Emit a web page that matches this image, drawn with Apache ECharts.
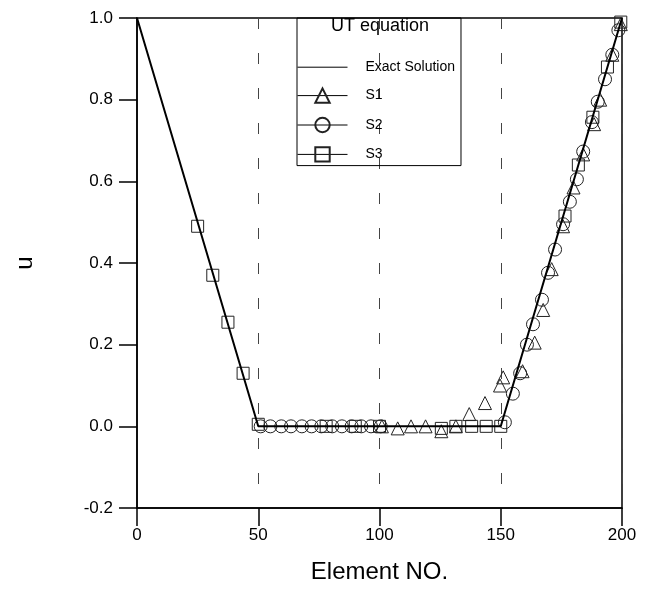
<!DOCTYPE html>
<html>
<head>
<meta charset="utf-8">
<script src="https://cdn.jsdelivr.net/npm/echarts@6/dist/echarts.min.js"></script>
<style>
  html, body { margin: 0; padding: 0; background: #fff; }
  #chart { width: 658px; height: 596px; }
</style>
</head>
<body>
<div id="chart"></div>
<script>
// ---- data ----
var xTicks = [0, 50, 100, 150, 200];
var yTicks = [-0.2, 0.0, 0.2, 0.4, 0.6, 0.8, 1.0];

var exactX = [0, 50, 150, 200];
var exactU = [1, 0, 0, 1];

var s1X = [101, 107.5, 113, 119, 125.5, 131.5, 137, 143.5, 149.7, 151, 159, 164, 167.5, 171, 175.7, 180, 184, 188.5, 191, 196, 199.5];
var s1U = [0, -0.005, 0, 0, -0.012, 0, 0.03, 0.057, 0.10, 0.12, 0.135, 0.205, 0.285, 0.385, 0.49, 0.585, 0.666, 0.74, 0.80, 0.91, 0.985];

var s2X = [51, 55, 59.5, 63.5, 68, 72, 76, 80.5, 84.5, 88.5, 92.5, 96.5, 100.5, 151.7, 155, 158, 160.8, 163.3, 167, 169.5, 172.4, 175.7, 178.5, 181.4, 184, 187.6, 190, 193, 196, 198.5];
var s2U = [0, 0, 0, 0, 0, 0, 0, 0, 0, 0, 0, 0, 0, 0.01, 0.08, 0.13, 0.2, 0.25, 0.31, 0.376, 0.433, 0.495, 0.55, 0.605, 0.673, 0.745, 0.795, 0.85, 0.91, 0.97];

var s3X = [25, 31.25, 37.5, 43.75, 50, 78, 90, 100, 125.5, 131.5, 138, 144, 150, 176.5, 182, 188, 194, 199.5];
var s3U = [0.49, 0.37, 0.255, 0.13, 0.005, 0, 0, 0, -0.005, 0, 0, 0, 0, 0.515, 0.64, 0.757, 0.88, 0.99];

function pairs(xs, ys) { return xs.map(function (x, i) { return [x, ys[i]]; }); }

var FONT = '"Liberation Sans", Arial, Helvetica, sans-serif';
var chart = echarts.init(document.getElementById('chart'), null, { renderer: 'canvas' });

var markerStyle = { color: 'rgba(0,0,0,0)', borderColor: '#222', borderWidth: 1 };
var noLine = { width: 0, opacity: 0 };
var legLine = { width: 1, opacity: 1, color: '#000' };

var option = {
  animation: false,
  backgroundColor: '#fff',
  title: {
    text: 'UT equation',
    left: 380, top: 17, textAlign: 'center', padding: 0,
    textStyle: { fontFamily: FONT, fontSize: 18, fontWeight: 'normal', color: '#000' }
  },
  grid: {
    left: 137, right: 36, top: 18, bottom: 88,
    show: true, borderColor: '#000', borderWidth: 1.5, backgroundColor: 'transparent'
  },
  legend: {
    left: 297, top: 18, orient: 'vertical',
    padding: [42, 6, 3, 0],
    borderColor: '#000', borderWidth: 1,
    itemWidth: 50, itemHeight: 18, itemGap: 13,
    textStyle: { fontFamily: FONT, fontSize: 14, color: '#000', padding: [0, 0, 0, 13] },
    data: [
      { name: 'Exact Solution', itemStyle: { opacity: 0 }, lineStyle: legLine },
      { name: 'S1', lineStyle: legLine },
      { name: 'S2', lineStyle: legLine },
      { name: 'S3', lineStyle: legLine }
    ]
  },
  xAxis: {
    type: 'value', min: xTicks[0], max: xTicks[xTicks.length - 1], interval: 50,
    name: 'Element NO.', nameLocation: 'middle', nameGap: 52,
    nameTextStyle: { fontFamily: FONT, fontSize: 24, color: '#000' },
    axisLine: { show: true, onZero: false, lineStyle: { color: '#000', width: 1.5 } },
    axisTick: { show: true, inside: false, length: 18, lineStyle: { color: '#000', width: 1.5 } },
    axisLabel: { margin: 19, fontFamily: FONT, fontSize: 17, color: '#000' },
    splitLine: { show: true, lineStyle: { color: '#444', width: 1, type: [11, 24] } }
  },
  yAxis: {
    type: 'value', min: yTicks[0], max: yTicks[yTicks.length - 1], interval: 0.2,
    name: 'u', nameLocation: 'middle', nameGap: 100, nameRotate: 90,
    nameTextStyle: { fontFamily: FONT, fontSize: 24, color: '#000' },
    axisLine: { show: true, onZero: false, lineStyle: { color: '#000', width: 1.5 } },
    axisTick: { show: true, inside: false, length: 18, lineStyle: { color: '#000', width: 1.5 } },
    axisLabel: { margin: 24, fontFamily: FONT, fontSize: 17, color: '#000',
      formatter: function (v) { return v.toFixed(1); } },
    splitLine: { show: false }
  },
  series: [
    {
      name: 'Exact Solution', type: 'line', data: pairs(exactX, exactU),
      showSymbol: false, symbol: 'none', z: 5,
      lineStyle: { color: '#000', width: 2 }, itemStyle: { color: '#000' }
    },
    {
      name: 'S1', type: 'line', data: pairs(s1X, s1U), symbol: 'triangle', symbolSize: 13,
      lineStyle: noLine, itemStyle: markerStyle, z: 3
    },
    {
      name: 'S2', type: 'line', data: pairs(s2X, s2U), symbol: 'circle', symbolSize: 13,
      lineStyle: noLine, itemStyle: markerStyle, z: 3
    },
    {
      name: 'S3', type: 'line', data: pairs(s3X, s3U), symbol: 'rect', symbolSize: 12,
      lineStyle: noLine, itemStyle: markerStyle, z: 3
    }
  ]
};
chart.setOption(option);
</script>
</body>
</html>
